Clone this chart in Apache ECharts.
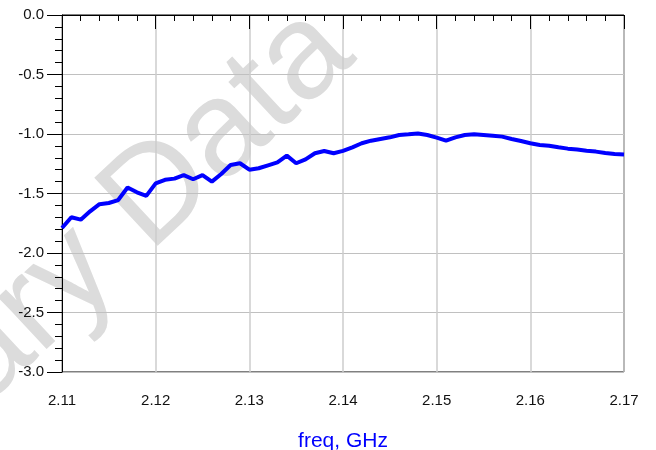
<!DOCTYPE html>
<html>
<head>
<meta charset="utf-8">
<script src="https://cdn.jsdelivr.net/npm/echarts@6/dist/echarts.min.js"></script>
<style>
  html, body { margin: 0; padding: 0; background: #fff; }
  #chart { width: 656px; height: 450px; }
</style>
</head>
<body>
<div id="chart"></div>
<script>
// frequency points, GHz
const freq = [
  2.110, 2.111, 2.112, 2.113, 2.114, 2.115, 2.116, 2.117, 2.118, 2.119,
  2.120, 2.121, 2.122, 2.123, 2.124, 2.125, 2.126, 2.127, 2.128, 2.129,
  2.130, 2.131, 2.132, 2.133, 2.134, 2.135, 2.136, 2.137, 2.138, 2.139,
  2.140, 2.141, 2.142, 2.143, 2.144, 2.145, 2.146, 2.147, 2.148, 2.149,
  2.150, 2.151, 2.152, 2.153, 2.154, 2.155, 2.156, 2.157, 2.158, 2.159,
  2.160, 2.161, 2.162, 2.163, 2.164, 2.165, 2.166, 2.167, 2.168, 2.169,
  2.170
];
// trace values
const trace = [
  -1.79, -1.70, -1.72, -1.65, -1.59, -1.58, -1.555, -1.45, -1.49, -1.52,
  -1.415, -1.385, -1.375, -1.345, -1.38, -1.345, -1.40, -1.336, -1.26, -1.246,
  -1.30, -1.288, -1.263, -1.238, -1.182, -1.246, -1.213, -1.162, -1.143, -1.162,
  -1.142, -1.112, -1.078, -1.056, -1.042, -1.028, -1.008, -1.003, -0.995, -1.008,
  -1.03, -1.056, -1.028, -1.008, -1.003, -1.008, -1.014, -1.022, -1.042, -1.059,
  -1.078, -1.092, -1.098, -1.112, -1.123, -1.131, -1.14, -1.148, -1.16, -1.168,
  -1.172
];
const xTicks = { min: 2.11, max: 2.17, step: 0.01 };
const yTicks = { min: -3.0, max: 0.0, step: 0.5 };

const font = 'Liberation Sans, Arial, sans-serif';
const chart = echarts.init(document.getElementById('chart'));

// watermark, rotated, split so "Data" can be anchored
const wm = { x: 124, y: 226, size: 135, angle: 43, color: '#dcdcdc' };

chart.setOption({
  animation: false,
  grid: {
    left: 62, right: 32, top: 15, bottom: 78,
    outerBoundsMode: 'none',
    show: true, borderColor: '#000', borderWidth: 1
  },
  graphic: [
    {
      type: 'text', x: wm.x, y: wm.y, rotation: wm.angle * Math.PI / 180, z: -10,
      style: { text: 'Preliminary ', font: wm.size + 'px ' + font, fill: wm.color,
               textAlign: 'right', textVerticalAlign: 'middle' }
    },
    {
      type: 'text', x: wm.x, y: wm.y, rotation: wm.angle * Math.PI / 180, z: -10,
      style: { text: 'Data', font: wm.size + 'px ' + font, fill: wm.color,
               textAlign: 'left', textVerticalAlign: 'middle' }
    }
  ],
  xAxis: {
    type: 'value',
    min: xTicks.min, max: xTicks.max, interval: xTicks.step,
    name: 'freq, GHz', nameLocation: 'middle', nameGap: 59,
    nameTextStyle: { color: '#0000ff', fontSize: 21, fontFamily: font },
    axisLine: { lineStyle: { color: '#000', width: 1 } },
    axisTick: { show: true, length: 14, lineStyle: { color: '#000' } },
    minorTick: { show: true, splitNumber: 5, length: 6, lineStyle: { color: '#000' } },
    axisLabel: { color: '#111', fontSize: 15, fontFamily: font, margin: 21,
                 formatter: v => v.toFixed(2) },
    splitLine: { show: true, lineStyle: { color: '#cccccc', width: 1.5 } }
  },
  yAxis: {
    type: 'value',
    min: yTicks.min, max: yTicks.max, interval: yTicks.step,
    axisLine: { show: true, lineStyle: { color: '#000', width: 1 } },
    axisTick: { show: true, length: 15, lineStyle: { color: '#000' } },
    minorTick: { show: true, splitNumber: 5, length: 7, lineStyle: { color: '#000' } },
    axisLabel: { color: '#111', fontSize: 15, fontFamily: font, margin: 18,
                 formatter: v => v.toFixed(1) },
    splitLine: { show: true, lineStyle: { color: '#c0c0c0', width: 1 } }
  },
  series: [{
    type: 'line',
    data: freq.map((f, i) => [f, trace[i]]),
    showSymbol: false,
    lineStyle: { color: '#0000ff', width: 4 },
    z: 5
  }]
});
</script>
</body>
</html>
